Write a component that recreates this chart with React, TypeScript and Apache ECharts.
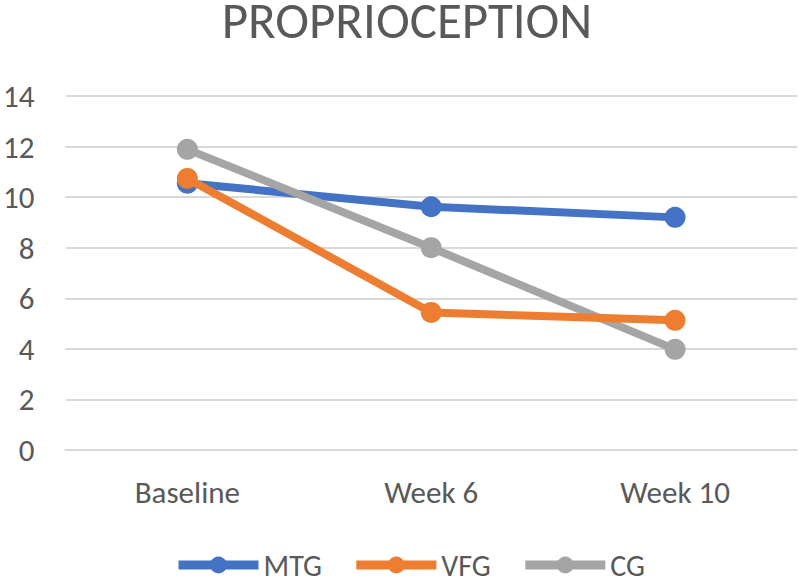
import React, { useEffect, useRef } from "react";
import * as echarts from "echarts";

const categories = ["Baseline", "Week 6", "Week 10"];
const mtg = [10.55, 9.62, 9.2];
const vfg = [10.74, 5.44, 5.13];
const cg = [11.89, 8.0, 3.98];
const seriesNames = ["MTG", "VFG", "CG"];
const colors = ["#4472C4", "#ED7D31", "#A5A5A5"];

const FONT = "Carlito, 'Liberation Sans Narrow', 'Open Sans', sans-serif";

export default function App() {
  const ref = useRef<HTMLDivElement>(null);
  useEffect(() => {
    if (!ref.current) return;
    const chart = echarts.init(ref.current, undefined, { renderer: "svg" });
    const data = [mtg, vfg, cg];
    chart.setOption({
      animation: false,
      backgroundColor: "#ffffff",
      title: {
        text: "PROPRIOCEPTION",
        left: 407,
        top: 0,
        padding: 0,
        textAlign: "center",
        textStyle: { fontFamily: FONT, fontSize: 51, lineHeight: 40, fontWeight: "normal", color: "#595959" },
      },
      grid: { left: 64, right: 3, top: 96, bottom: 131, containLabel: false },
      legend: {
        top: 550,
        left: 174,
        itemWidth: 80,
        itemHeight: 21,
        itemGap: 30,
        padding: 0,
        lineStyle: { width: 9 },
        textStyle: { fontFamily: FONT, fontSize: 30, color: "#595959" },
        data: seriesNames,
      },
      xAxis: {
        type: "category",
        data: categories,
        boundaryGap: true,
        axisLine: { show: true, lineStyle: { color: "#D9D9D9", width: 2 } },
        axisTick: { show: false },
        axisLabel: { fontFamily: FONT, fontSize: 31, color: "#595959", margin: 26 },
      },
      yAxis: {
        type: "value",
        min: 0,
        max: 14,
        interval: 2,
        axisLine: { show: false },
        axisTick: { show: false },
        splitLine: { lineStyle: { color: "#D9D9D9", width: 2 } },
        axisLabel: { fontFamily: FONT, fontSize: 31, color: "#595959", margin: 31 },
      },
      series: seriesNames.map((name, i) => ({
        name,
        type: "line",
        data: data[i],
        symbol: "circle",
        symbolSize: 21,
        color: colors[i],
        lineStyle: { width: 8, color: colors[i] },
        itemStyle: { color: colors[i] },
        z: 2 + (i === 1 ? 1 : 0),
      })),
    });
    return () => chart.dispose();
  }, []);
  return (
    <div
      ref={ref}
      style={{ position: "absolute", left: 0, top: 0, width: 800, height: 581 }}
    />
  );
}
